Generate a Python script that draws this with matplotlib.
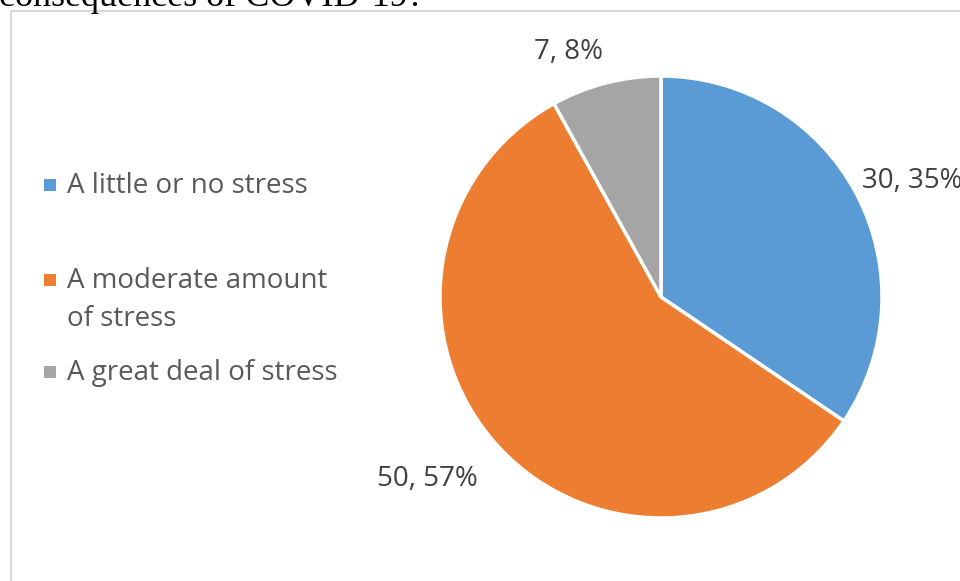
import matplotlib
matplotlib.use("Agg")
import matplotlib.pyplot as plt
from matplotlib.patches import Rectangle

categories = ["A little or no stress", "A moderate amount\nof stress", "A great deal of stress"]
counts = [30, 50, 7]
percents = ["35%", "57%", "8%"]
colors = ["#5B9BD5", "#ED7D31", "#A5A5A5"]

W, H = 960, 581
fig = plt.figure(figsize=(W / 100, H / 100), dpi=100)
fig.patch.set_facecolor("white")

# chart frame (cut off at right and bottom)
fig.patches.append(Rectangle((11 / W, -0.1), 1.2, (H - 10.5) / H + 0.1,
                             transform=fig.transFigure, facecolor="none",
                             edgecolor="#D9D9D9", linewidth=1.5))

# caption from the page above, partly cut
fig.text(-1 / W, 1 - 6 / H, "consequences of COVID-19?", family="Liberation Serif",
         fontsize=26, color="black", va="baseline", ha="left")

cx, cy, r = 661, 297, 221
ax = fig.add_axes([(cx - r) / W, 1 - (cy + r) / H, 2 * r / W, 2 * r / H])
wedges, _ = ax.pie(counts, colors=colors, startangle=90, counterclock=False,
                   wedgeprops=dict(edgecolor="white", linewidth=2.5))
ax.set_xlim(-1, 1)
ax.set_ylim(-1, 1)
ax.set_aspect("equal")
ax.axis("off")

# data labels: count, percent
label_pos = [(912, 181), (427, 479), (568, 52)]
for c, p, (lx, ly) in zip(counts, percents, label_pos):
    fig.text(lx / W, 1 - ly / H, f"{c}, {p}", fontsize=20,
             color="#404040", ha="center", va="center", family="Open Sans")

# legend
marker_y = [185, 280, 372]
base_y = [193, 288, 380]
for cat, col, my, by in zip(categories, colors, marker_y, base_y):
    fig.patches.append(Rectangle((44 / W, 1 - (my + 6) / H), 12 / W, 12 / H,
                                 transform=fig.transFigure, facecolor=col,
                                 edgecolor="none"))
    for i, line in enumerate(cat.split("\n")):
        fig.text(67 / W, 1 - (by + 38 * i) / H, line, fontsize=20, color="#595959",
                 ha="left", va="baseline", family="Open Sans")

fig.savefig("out.png", dpi=100)
